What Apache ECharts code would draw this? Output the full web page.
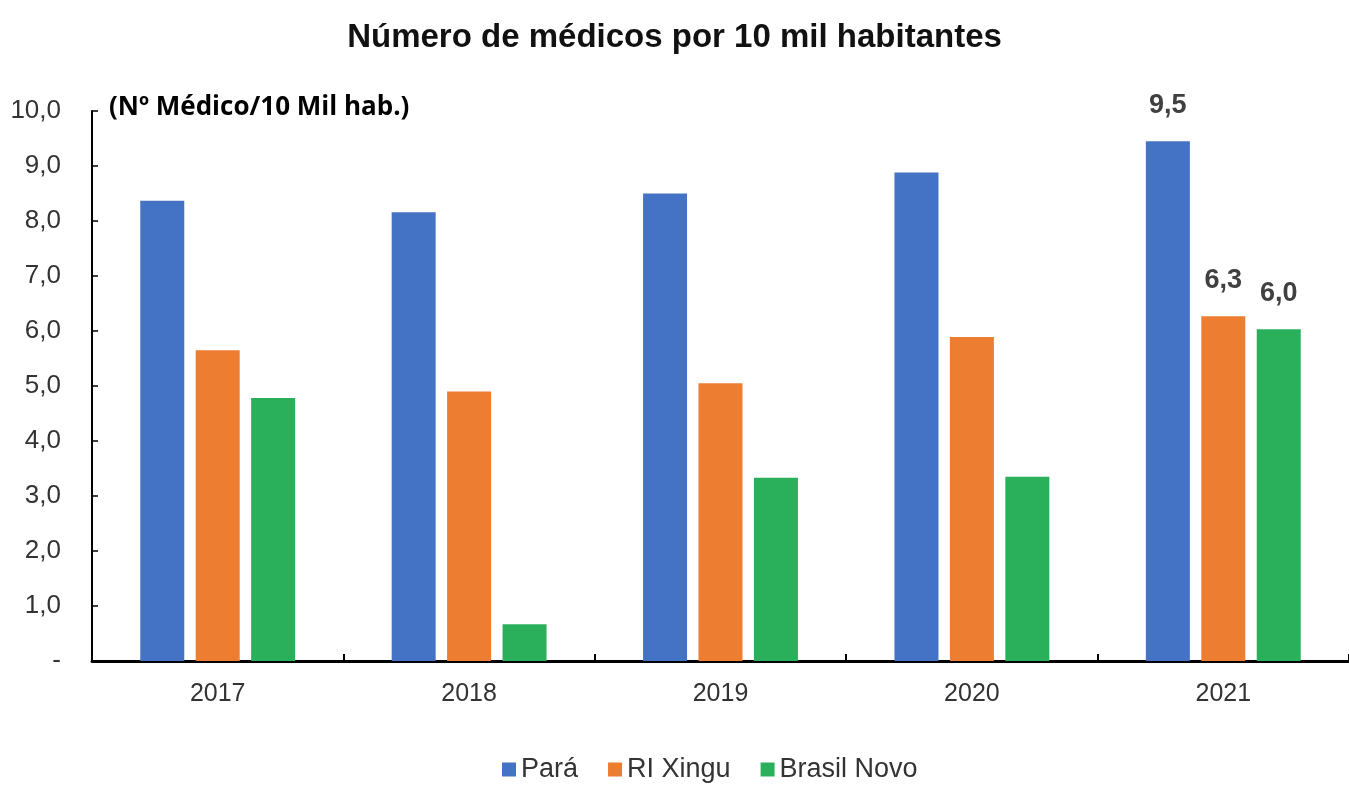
<!DOCTYPE html>
<html>
<head>
<meta charset="utf-8">
<script src="https://cdn.jsdelivr.net/npm/echarts@6/dist/echarts.min.js"></script>
<style>
html,body{margin:0;padding:0;background:#fff;}
#chart{width:1349px;height:786px;}
</style>
</head>
<body>
<div id="chart"></div>
<script>
const categories = ['2017', '2018', '2019', '2020', '2021'];
const seriesNames = ['Pará', 'RI Xingu', 'Brasil Novo'];
const para = [8.37, 8.16, 8.50, 8.88, 9.45];
const riXingu = [5.65, 4.90, 5.05, 5.89, 6.27];
const brasilNovo = [4.78, 0.67, 3.33, 3.35, 6.03];
const labels2021 = ['9,5', '6,3', '6,0'];
const yTickLabels = ['-', '1,0', '2,0', '3,0', '4,0', '5,0', '6,0', '7,0', '8,0', '9,0', '10,0'];
const colors = ['#4472C4', '#ED7D31', '#2AB05B'];

const FONT = "'Liberation Sans', Arial, sans-serif";
const chart = echarts.init(document.getElementById('chart'));

function buildData(values, sIdx) {
  return values.map((v, i) => {
    if (i === values.length - 1) {
      return {
        value: v,
        label: {
          show: true, position: 'top', distance: 22,
          formatter: labels2021[sIdx],
          color: '#404040', fontSize: 27, fontWeight: 'bold', fontFamily: FONT
        }
      };
    }
    return v;
  });
}

const allValues = [para, riXingu, brasilNovo];

chart.setOption({
  animation: false,
  backgroundColor: '#ffffff',
  color: colors,
  title: [
    {
      text: 'Número de médicos por 10 mil habitantes',
      left: 'center', top: 16,
      textStyle: { fontFamily: FONT, fontSize: 33, fontWeight: 'bold', color: '#111' }
    },
    {
      text: '(Nº Médico/10 Mil hab.)',
      left: 104, top: 90,
      textStyle: { fontFamily: "'Open Sans', sans-serif", fontSize: 26, fontWeight: 'bold', color: '#000' }
    }
  ],
  legend: {
    top: 751,
    left: 497,
    itemWidth: 14, itemHeight: 14, itemGap: 30,
    icon: 'rect',
    textStyle: { fontFamily: FONT, fontSize: 27, color: '#333' },
    data: seriesNames
  },
  grid: { left: 92, top: 111, width: 1262, height: 550, containLabel: false },
  xAxis: {
    type: 'category',
    data: categories,
    axisLine: { lineStyle: { color: '#000', width: 3 } },
    axisTick: { show: true, inside: true, length: 7, lineStyle: { color: '#000', width: 2 } },
    axisLabel: { fontFamily: FONT, fontSize: 25, color: '#333', margin: 21 },
    splitLine: { show: false }
  },
  yAxis: {
    type: 'value',
    min: 0, max: 10, interval: 1,
    axisLine: { show: true, lineStyle: { color: '#000', width: 2 } },
    axisTick: { show: true, inside: true, length: 6, lineStyle: { color: '#000', width: 1.5 } },
    axisLabel: {
      fontFamily: FONT, fontSize: 26, color: '#333', margin: 31,
      formatter: function (v) { return yTickLabels[Math.round(v)]; }
    },
    splitLine: { show: false }
  },
  series: seriesNames.map((name, s) => ({
    name: name,
    type: 'bar',
    barWidth: 44,
    barGap: '26%',
    data: buildData(allValues[s], s),
    itemStyle: { color: colors[s] }
  }))
});
</script>
</body>
</html>
